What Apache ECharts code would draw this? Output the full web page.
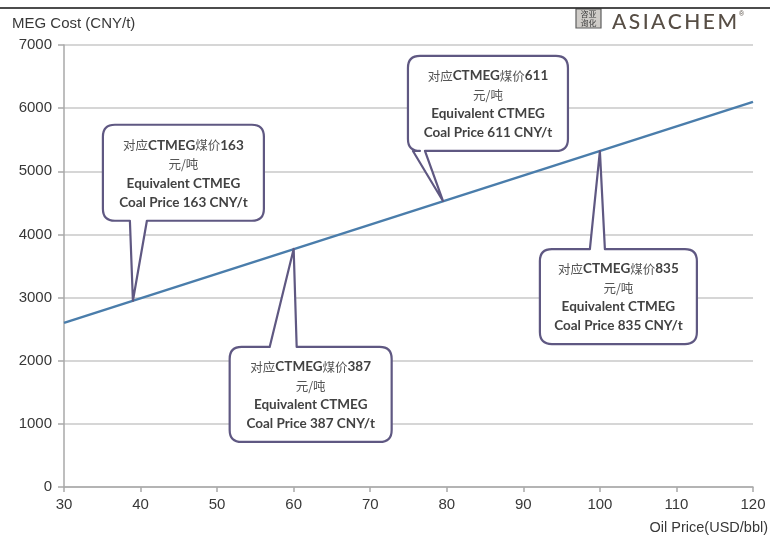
<!DOCTYPE html>
<html>
<head>
<meta charset="utf-8">
<script src="https://cdn.jsdelivr.net/npm/echarts@6/dist/echarts.min.js"></script>
<style>
  html, body { margin: 0; padding: 0; background: #fff; }
  #chart { width: 770px; height: 536px; }
</style>
</head>
<body>
<div id="chart"></div>
<script>
// MEG cost line: oil price (USD/bbl) vs MEG cost (CNY/t)
const oilPrice = [30, 120];
const megCost = [2600, 6100];

// Break-even coal prices marked along the line
const calloutOil = [39, 60, 79.5, 100];
const calloutCost = [2950, 3770, 4530, 5320];
const coalPrice = [163, 387, 611, 835];

// Axis ranges
const xMin = 30, xMax = 120, xStep = 10;
const yMin = 0, yMax = 7000, yStep = 1000;

// Callout box placement relative to the pointer tip (pixels)
const calloutLayout = [
  { box: [-30, 131, -176, -80], tail: [-3, 14], side: 'bottom' },
  { box: [-64, 98, 98, 193], tail: [-24, 3], side: 'top' },
  { box: [-35, 125, -145, -50], tail: [-30, -18], side: 'bottom' },
  { box: [-60, 97, 98, 193], tail: [-10, 5], side: 'top' }
];

const lineData = oilPrice.map((x, i) => [x, megCost[i]]);
const calloutData = calloutOil.map((x, i) => [x, calloutCost[i], coalPrice[i]]);

const AXIS_FONT = '"Liberation Sans", Arial, sans-serif';
const BOX_FONT = 'Lato, "Noto Sans CJK SC", sans-serif';

function calloutPath(tip, L) {
  const x0 = tip[0] + L.box[0], x1 = tip[0] + L.box[1];
  const y0 = tip[1] + L.box[2], y1 = tip[1] + L.box[3];
  const b1 = tip[0] + L.tail[0], b2 = tip[0] + L.tail[1];
  const r = 12;
  let d;
  if (L.side === 'bottom') {
    d = `M${x0 + r} ${y0} L${x1 - r} ${y0} Q${x1} ${y0} ${x1} ${y0 + r} ` +
        `L${x1} ${y1 - r} Q${x1} ${y1} ${x1 - r} ${y1} ` +
        `L${b2} ${y1} L${tip[0]} ${tip[1]} L${b1} ${y1} ` +
        `L${x0 + r} ${y1} Q${x0} ${y1} ${x0} ${y1 - r} ` +
        `L${x0} ${y0 + r} Q${x0} ${y0} ${x0 + r} ${y0} Z`;
  } else {
    d = `M${x0 + r} ${y0} L${b1} ${y0} L${tip[0]} ${tip[1]} L${b2} ${y0} ` +
        `L${x1 - r} ${y0} Q${x1} ${y0} ${x1} ${y0 + r} ` +
        `L${x1} ${y1 - r} Q${x1} ${y1} ${x1 - r} ${y1} ` +
        `L${x0 + r} ${y1} Q${x0} ${y1} ${x0} ${y1 - r} ` +
        `L${x0} ${y0 + r} Q${x0} ${y0} ${x0 + r} ${y0} Z`;
  }
  return { d, cx: (x0 + x1) / 2, cy: (y0 + y1) / 2 };
}

function renderCallout(params, api) {
  const tip = api.coord([api.value(0), api.value(1)]);
  const price = api.value(2);
  const p = calloutPath(tip, calloutLayout[params.dataIndex]);
  const text =
    `{cn|对应}{en|CTMEG}{cn|煤价}{en|${price}}\n` +
    `{cn|元/吨}\n` +
    `{en|Equivalent CTMEG}\n` +
    `{en|Coal Price ${price} CNY/t}`;
  return {
    type: 'group',
    children: [
      {
        type: 'path',
        shape: { pathData: p.d },
        style: { fill: '#ffffff', stroke: '#5f5882', lineWidth: 2.2, lineJoin: 'round' }
      },
      {
        type: 'text',
        x: p.cx,
        y: p.cy + 1,
        style: {
          text: text,
          align: 'center',
          verticalAlign: 'middle',
          rich: {
            cn: { fontFamily: '"Noto Sans CJK SC", sans-serif', fontSize: 12.5, fill: '#555555', lineHeight: 19 },
            en: { fontFamily: BOX_FONT, fontWeight: 'bold', fontSize: 13.5, fill: '#424242', lineHeight: 19 }
          }
        }
      }
    ]
  };
}

// Brand mark: letter-spaced wordmark
function brandLetters() {
  const word = 'ASIACHEM';
  const font = '500 21px Lato';
  const ctx = document.createElement('canvas').getContext('2d');
  ctx.font = font;
  const widths = word.split('').map(ch => ctx.measureText(ch).width);
  const total = widths.reduce((a, b) => a + b, 0);
  const span = 125;
  const gap = (span - total) / (word.length - 1);
  let x = 612;
  return word.split('').map((ch, i) => {
    const el = {
      type: 'text', x: x, y: 22,
      style: { text: ch, font: font, fill: '#574e45', verticalAlign: 'middle' }
    };
    x += widths[i] + gap;
    return el;
  });
}

const chart = echarts.init(document.getElementById('chart'), null, { renderer: 'canvas' });

chart.setOption({
  animation: false,
  backgroundColor: '#ffffff',
  grid: { left: 64, right: 17, top: 45, bottom: 49, containLabel: false },
  xAxis: {
    type: 'value',
    min: xMin, max: xMax, interval: xStep,
    axisLine: { show: true, lineStyle: { color: '#a9a9a9', width: 1.5 } },
    axisTick: { show: true, length: 5, lineStyle: { color: '#a9a9a9', width: 1.5 } },
    axisLabel: { margin: 10, fontFamily: AXIS_FONT, fontSize: 15, color: '#383838', formatter: v => String(v) },
    splitLine: { show: false }
  },
  yAxis: {
    type: 'value',
    min: yMin, max: yMax, interval: yStep,
    axisLine: { show: true, lineStyle: { color: '#a9a9a9', width: 1.5 } },
    axisTick: { show: true, length: 6, lineStyle: { color: '#a9a9a9', width: 1.5 } },
    axisLabel: { margin: 12, fontFamily: AXIS_FONT, fontSize: 15, color: '#383838', formatter: v => String(v) },
    splitLine: { show: true, lineStyle: { color: '#c9c9c9', width: 1.5 } }
  },
  graphic: [
    { type: 'line', shape: { x1: 0, y1: 8, x2: 770, y2: 8 }, style: { stroke: '#111', lineWidth: 1.5 }, z: 10 },
    {
      type: 'text', left: 12, top: 16,
      style: { text: 'MEG Cost (CNY/t)', fontFamily: AXIS_FONT, fontSize: 15, fill: '#383838' }
    },
    {
      type: 'text', right: 2, top: 520,
      style: { text: 'Oil Price(USD/bbl)', fontFamily: AXIS_FONT, fontSize: 14.5, fill: '#383838' }
    },
    {
      type: 'group', z: 11,
      children: [
        { type: 'rect', shape: { x: 576, y: 9, width: 25, height: 19 }, style: { fill: '#cfccc8', stroke: '#5e5e5e', lineWidth: 1.2 } },
        {
          type: 'text', x: 588.5, y: 18.5,
          style: { text: '咨亚\n询化', fontFamily: '"Noto Sans CJK SC", sans-serif', fontSize: 8, lineHeight: 8.5, fill: '#3f3f3f', align: 'center', verticalAlign: 'middle' }
        },
        ...brandLetters(),
        { type: 'text', x: 739, y: 11, style: { text: '®', fontFamily: AXIS_FONT, fontSize: 7, fill: '#574e45' } }
      ]
    }
  ],
  series: [
    {
      type: 'line',
      data: lineData,
      showSymbol: false,
      symbol: 'none',
      lineStyle: { color: '#4a7dab', width: 2.5 },
      z: 2
    },
    {
      type: 'custom',
      coordinateSystem: 'cartesian2d',
      data: calloutData,
      encode: { x: 0, y: 1 },
      renderItem: renderCallout,
      clip: false,
      z: 5
    }
  ]
});
</script>
</body>
</html>
